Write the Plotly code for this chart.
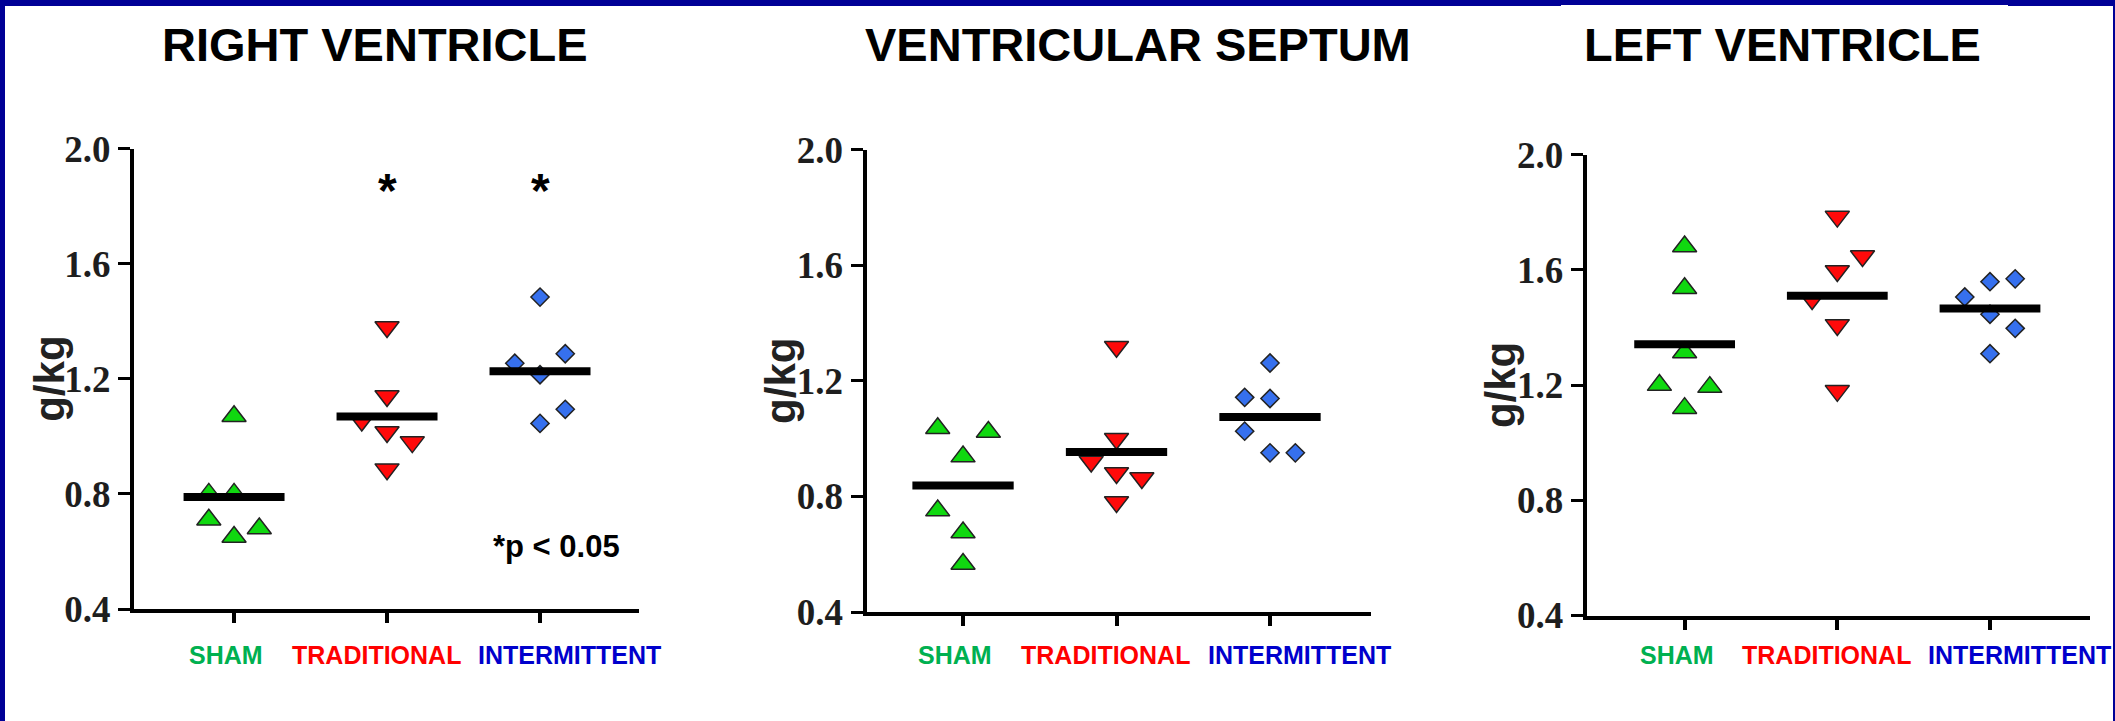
import plotly.graph_objects as go

W, H = 2115, 721

# ---------------- data ----------------
panels = ["RIGHT VENTRICLE", "VENTRICULAR SEPTUM", "LEFT VENTRICLE"]
groups = ["SHAM", "TRADITIONAL", "INTERMITTENT"]

rv_sham = [1.07, 0.80, 0.80, 0.71, 0.65, 0.68]
rv_trad = [1.38, 1.14, 1.055, 1.015, 0.98, 0.886]
rv_int = [1.484, 1.287, 1.254, 1.214, 1.094, 1.045]
rv_means = [0.789, 1.069, 1.226]

vs_sham = [1.036, 1.023, 0.938, 0.751, 0.675, 0.566]
vs_trad = [1.318, 1.0, 0.921, 0.881, 0.864, 0.781]
vs_int = [1.262, 1.143, 1.139, 1.026, 0.951, 0.951]
vs_means = [0.838, 0.954, 1.075]

lv_sham = [1.681, 1.536, 1.313, 1.20, 1.193, 1.12]
lv_trad = [1.785, 1.648, 1.596, 1.499, 1.409, 1.18]
lv_int = [1.559, 1.569, 1.506, 1.446, 1.397, 1.309]
lv_means = [1.342, 1.51, 1.466]

y_ticks = [0.4, 0.8, 1.2, 1.6, 2.0]
y_ticktext = ["0.4", "0.8", "1.2", "1.6", "2.0"]
y_axis_title = "g/kg"
sig_groups = [1, 2]          # groups marked with * in the right-ventricle panel
sig_note = "*p < 0.05"

# swarm layout (horizontal slot of each point, -1 / 0 / +1)
rv_slots = [[0, -1, 0, -1, 0, 1], [0, 0, -1, 0, 1, 0], [0, 1, -1, 0, 1, 0]]
vs_slots = [[-1, 1, 0, -1, 0, 0], [0, 0, -1, 0, 1, 0], [0, -1, 0, -1, 0, 1]]
lv_slots = [[0, 0, 0, -1, 1, 0], [0, 1, 0, -1, 0, 0], [0, 1, -1, 0, 1, 0]]

panel_data = [
    ([rv_sham, rv_trad, rv_int], rv_means, rv_slots),
    ([vs_sham, vs_trad, vs_int], vs_means, vs_slots),
    ([lv_sham, lv_trad, lv_int], lv_means, lv_slots),
]

# ---------------- styles ----------------
marker_symbols = ["triangle-up", "triangle-down", "diamond"]
marker_colors = ["#10d810", "#ff0a0a", "#3670ee"]
marker_sizes = [21, 21, 14]
label_colors = ["#00b050", "#ff0000", "#0000cc"]
border_col = "#000096"
SLOT = 0.165
HALF = 0.33

def px(x):
    return x / W

def py(y):
    return 1 - y / H

# axis geometry in pixels: (left, right, y_top(2.0), y_bottom(0.4))
geom = [(134, 639, 148.6, 609), (866.5, 1371, 149.8, 612), (1586.6, 2090, 154.7, 615.5)]
xranges = [[-0.654, 2.647], [-0.629, 2.658], [-0.642, 2.655]]
title_cx = [375, 1137.5, 1782.5]
ytitle_cx = [50, 781, 1500]

fig = go.Figure()
annotations = []

for p, (vals, means, slots) in enumerate(panel_data):
    xa = "x" if p == 0 else f"x{p+1}"
    ya = "y" if p == 0 else f"y{p+1}"
    for g in range(3):
        xs = [g + s * SLOT for s in slots[g]]
        fig.add_trace(go.Scatter(
            x=xs, y=vals[g], mode="markers", xaxis=xa, yaxis=ya,
            marker=dict(symbol=marker_symbols[g], size=marker_sizes[g],
                        color=marker_colors[g],
                        line=dict(color="#222222", width=1.5)),
            showlegend=False, hoverinfo="y"))
    for g in range(3):
        fig.add_trace(go.Scatter(
            x=[g - HALF, g + HALF], y=[means[g], means[g]], mode="lines",
            xaxis=xa, yaxis=ya, line=dict(color="black", width=8),
            showlegend=False, hoverinfo="skip"))

    left, right, ytop, ybot = geom[p]
    axis_common = dict(showgrid=False, zeroline=False, showline=True,
                       linecolor="black", linewidth=4, ticks="outside",
                       tickcolor="black", automargin=False)
    fig.update_layout(**{
        ("xaxis" if p == 0 else f"xaxis{p+1}"): dict(
            domain=[px(left), px(right)], range=xranges[p],
            tickvals=[0, 1, 2], ticktext=["", "", ""], ticklen=10,
            tickwidth=4, anchor=ya, **axis_common),
        ("yaxis" if p == 0 else f"yaxis{p+1}"): dict(
            domain=[py(ybot), py(ytop)], range=[0.4, 2.0],
            tickvals=y_ticks, ticktext=y_ticktext, ticklen=12, tickwidth=3,
            anchor=xa,
            tickfont=dict(family="Liberation Serif", size=37, color="#1e1e1e",
                          weight="bold"),
            **axis_common),
    })

    # panel title
    annotations.append(dict(text=f"<b>{panels[p]}</b>", x=px(title_cx[p]), y=py(45),
                            xref="paper", yref="paper", showarrow=False,
                            xanchor="center", yanchor="middle",
                            font=dict(family="Liberation Sans", size=47, color="black")))
    # y axis title
    annotations.append(dict(text=f"<b>{y_axis_title}</b>", x=px(ytitle_cx[p]),
                            y=py((ytop + ybot) / 2), xref="paper", yref="paper",
                            showarrow=False, textangle=-90, xanchor="center",
                            yanchor="middle",
                            font=dict(family="Liberation Sans", size=42, color="#222222")))
    # group labels
    label_off = [-0.05, -0.07, 0.19]
    for g in range(3):
        annotations.append(dict(text=f"<b>{groups[g]}</b>", x=g + label_off[g], y=py(655),
                                xref=xa, yref="paper", showarrow=False,
                                xanchor="center", yanchor="middle",
                                font=dict(family="Liberation Sans", size=25,
                                          color=label_colors[g])))

# significance markers
for g in sig_groups:
    annotations.append(dict(text="<b>*</b>", x=g, y=1.855, xref="x", yref="y",
                            showarrow=False, xanchor="center", yanchor="middle",
                            font=dict(family="Liberation Sans", size=48, color="black")))
annotations.append(dict(text=f"<b>{sig_note}</b>", x=px(556.5), y=py(546),
                        xref="paper", yref="paper", showarrow=False,
                        xanchor="center", yanchor="middle",
                        font=dict(family="Liberation Sans", size=31, color="black")))

shapes = [
    dict(type="rect", xref="paper", yref="paper", x0=0, x1=1, y0=py(6), y1=1,
         fillcolor=border_col, line=dict(width=0), layer="above"),
    dict(type="rect", xref="paper", yref="paper", x0=px(1561), x1=px(2008), y0=py(6), y1=py(5),
         fillcolor="white", line=dict(width=0), layer="above"),
    dict(type="rect", xref="paper", yref="paper", x0=0, x1=px(5), y0=0, y1=1,
         fillcolor=border_col, line=dict(width=0), layer="above"),
    dict(type="rect", xref="paper", yref="paper", x0=px(2113), x1=1, y0=0, y1=1,
         fillcolor=border_col, line=dict(width=0), layer="above"),
]

fig.update_layout(template="none", width=W, height=H,
                  margin=dict(l=0, r=0, t=0, b=0, pad=0, autoexpand=False),
                  paper_bgcolor="white", plot_bgcolor="white",
                  annotations=annotations, shapes=shapes, showlegend=False)

fig.write_html("out.html")
